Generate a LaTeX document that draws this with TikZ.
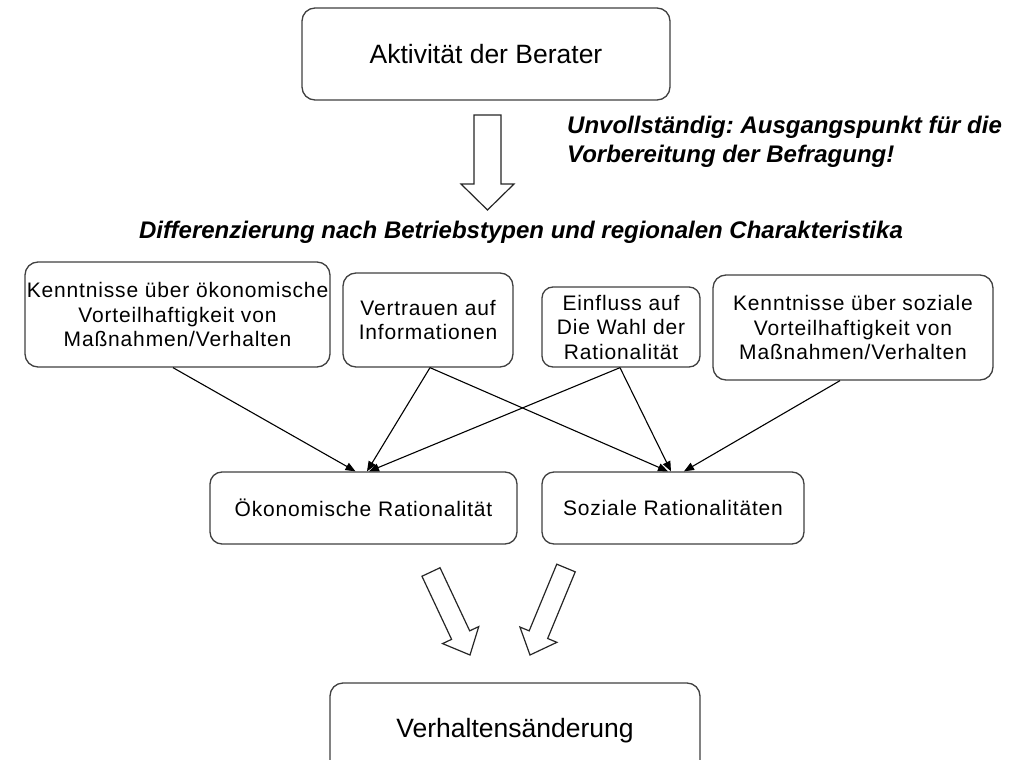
\documentclass[tikz,border=0pt]{standalone}
\usepackage{fontspec}
\setmainfont{Liberation Sans}
\newfontfamily\boxfont[LetterSpace=4]{Liberation Sans}
\usetikzlibrary{arrows.meta,calc}
\newcommand\blockarrow[5]{%
  \coordinate (bb) at ($(#2)!#5pt!(#1)$);
  \draw[hollow] ($(#1)!#3pt!90:(#2)$) -- ($(bb)!#3pt!90:(#2)$) -- ($(bb)!#4pt!90:(#2)$) -- (#2)
    -- ($(bb)!#4pt!-90:(#2)$) -- ($(bb)!#3pt!-90:(#2)$) -- ($(#1)!#3pt!-90:(#2)$) -- cycle;}
\frenchspacing
\begin{document}
\begin{tikzpicture}[x=1pt,y=-1pt,
  box/.style={draw=black!75, line width=1.3pt, rounded corners=13pt, fill=white, inner sep=0pt, align=center},
  boxtext/.style={font=\boxfont\fontsize{21pt}{24.5pt}\selectfont},
  bigtext/.style={font=\fontsize{26.5pt}{30pt}\selectfont},
  conn/.style={line width=1.1pt, -{Triangle[length=10pt,width=8pt]}},
  hollow/.style={draw=black!85, line width=1.2pt, fill=white, line join=miter},
  note/.style={font=\bfseries\itshape\fontsize{24pt}{29pt}\selectfont, align=left, inner sep=0pt}]
\useasboundingbox (0,0) rectangle (1026,760);
\clip (0,0) rectangle (1026,760);

% top box
\node[box, bigtext, minimum width=368pt, minimum height=92pt] (akt) at (486,54) {Aktivität der Berater};

% top hollow arrow
\coordinate (t1) at (487.5,115);
\coordinate (t2) at (487.5,210);
\blockarrow{t1}{t2}{13.5}{26.5}{26}

% notes
\node[note, anchor=north west] (n1) at (567,116) {Unvollständig: Ausgangspunkt für die\\Vorbereitung der Befragung!};
\node[note, anchor=center] (n2) at (521,232) {Differenzierung nach Betriebstypen und regionalen Charakteristika};

% factor boxes
\node[box, boxtext, minimum width=305pt, minimum height=105pt] (k1) at (177.5,314.5) {Kenntnisse über ökonomische\\Vorteilhaftigkeit von\\Maßnahmen/Verhalten};
\node[box, boxtext, minimum width=170pt, minimum height=94pt] (ver) at (428,320) {Vertrauen auf\\Informationen};
\node[box, boxtext, minimum width=158pt, minimum height=80pt, rounded corners=11pt] (ein) at (621,327) {Einfluss auf\\Die Wahl der\\Rationalität};
\node[box, boxtext, minimum width=280pt, minimum height=105pt] (k2) at (853,327.5) {Kenntnisse über soziale\\Vorteilhaftigkeit von\\Maßnahmen/Verhalten};

% rationality boxes
\node[box, boxtext, minimum width=307pt, minimum height=72pt, rounded corners=12pt] (oek) at (363.5,508) {Ökonomische Rationalität};
\node[box, boxtext, minimum width=262pt, minimum height=72pt, rounded corners=12pt] (soz) at (673,508) {Soziale Rationalitäten};

% connectors
\draw[conn] ([xshift=-4.5pt]k1.south) -- ([xshift=-8pt]oek.north);
\draw[conn] ([xshift=2pt]ver.south) -- ([xshift=3.5pt]oek.north);
\draw[conn] ([xshift=-1pt]ein.south) -- ([xshift=5.5pt]oek.north);
\draw[conn] ([xshift=2pt]ver.south) -- ([xshift=-5pt]soz.north);
\draw[conn] ([xshift=-1pt]ein.south) -- ([xshift=-2pt]soz.north);
\draw[conn] ([xshift=-13pt]k2.south) -- ([xshift=11pt]soz.north);

% bottom hollow arrows
\coordinate (b1t) at (431,572);
\coordinate (b1h) at (470,655);
\coordinate (b2t) at (566,568);
\coordinate (b2h) at (530,655);
\blockarrow{b1t}{b1h}{10}{20}{22}
\blockarrow{b2t}{b2h}{10}{20}{22}

% bottom box
\node[box, bigtext, minimum width=370pt, minimum height=110pt, text depth=0pt] (vh) at (515,738) {\raisebox{20pt}{Verhaltensänderung}};
\end{tikzpicture}
\end{document}
